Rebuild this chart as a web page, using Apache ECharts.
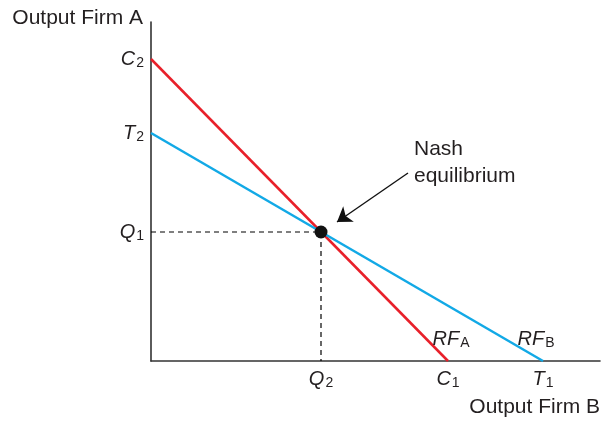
<!DOCTYPE html>
<html>
<head>
<meta charset="utf-8">
<script src="https://cdn.jsdelivr.net/npm/echarts@6/dist/echarts.min.js"></script>
<style>html,body{margin:0;padding:0;background:#fff}#c{width:609px;height:425px}</style>
</head>
<body>
<div id="c"></div>
<script>
// Values in chart units (x: Output Firm B, y: Output Firm A)
const xMax = 449, yMax = 339;
const rfA = [[0, 302], [297, 0]];   // C2 -> C1
const rfB = [[0, 228], [392, 0]];   // T2 -> T1
const nash = [170, 129];            // (Q2, Q1)
const yTickValues = [302, 228, 129];
const yTickLabels = [['C', '2'], ['T', '2'], ['Q', '1']];
const xTickValues = [170, 297, 392];
const xTickLabels = [['Q', '2'], ['C', '1'], ['T', '1']];
const arrowFrom = [257, 188];
const arrowTo = [186, 139];
const rfLabels = [{ name: ['RF', 'A'], at: [300, 22] }, { name: ['RF', 'B'], at: [385, 22] }];

const FONT = 'Liberation Sans, Arial, sans-serif';
const TXT = '#231f20';
const rich = {
  i: { fontStyle: 'italic', fontSize: 20, fontFamily: FONT, color: TXT, lineHeight: 24 },
  s: { fontSize: 14, fontFamily: FONT, color: TXT, lineHeight: 24, padding: [9, 0, 0, 1] }
};
function fmt(vals, labels) {
  return function (v) {
    const k = vals.indexOf(Math.round(v));
    if (k < 0) return '';
    return '{i|' + labels[k][0] + '}{s|' + labels[k][1] + '}';
  };
}

const chart = echarts.init(document.getElementById('c'));
chart.setOption({
  animation: false,
  grid: { left: 151, top: 22, right: 9, bottom: 64 },
  xAxis: {
    type: 'value', min: 0, max: xMax,
    splitLine: { show: false },
    axisLine: { lineStyle: { color: '#333', width: 1.6 } },
    axisTick: { show: false },
    axisLabel: { customValues: xTickValues, formatter: fmt(xTickValues, xTickLabels), rich: rich, margin: 6 }
  },
  yAxis: {
    type: 'value', min: 0, max: yMax,
    splitLine: { show: false },
    axisLine: { show: true, lineStyle: { color: '#333', width: 1.6 } },
    axisTick: { show: false },
    axisLabel: { customValues: yTickValues, formatter: fmt(yTickValues, yTickLabels), rich: rich, margin: 7 }
  },
  series: [
    { type: 'line', data: [[0, nash[1]], nash, [nash[0], 0]], symbol: 'none',
      lineStyle: { color: '#000', width: 1.2, type: [5, 4] }, z: 1 },
    { type: 'line', data: rfA, symbol: 'none', lineStyle: { color: '#e8202a', width: 2.5 }, z: 2 },
    { type: 'line', data: rfB, symbol: 'none', lineStyle: { color: '#12a9e6', width: 2.5 }, z: 3 },
    { type: 'scatter', data: [nash], symbolSize: 13, itemStyle: { color: '#111', opacity: 1 }, z: 5 },
    { type: 'lines', coordinateSystem: 'cartesian2d', z: 6,
      symbol: ['none', 'arrow'], symbolSize: 14,
      lineStyle: { color: '#111', width: 1.4, opacity: 1 },
      data: [{ coords: [arrowFrom, arrowTo] }] },
    { type: 'scatter', symbolSize: 0, z: 7, itemStyle: { opacity: 1 },
      data: rfLabels.map(r => ({ value: r.at, name: r.name })),
      label: { show: true, position: 'inside', rich: rich, opacity: 1, color: TXT,
        formatter: p => '{i|' + p.data.name[0] + '}{s|' + p.data.name[1] + '}' } }
  ],
  graphic: [
    { type: 'text', right: 609 - 143, top: 8,
      style: { text: 'Output Firm A', font: '21px ' + FONT, fill: TXT } },
    { type: 'text', right: 9, top: 397,
      style: { text: 'Output Firm B', font: '21px ' + FONT, fill: TXT } },
    { type: 'text', left: 414, top: 136,
      style: { text: 'Nash\nequilibrium', font: '21px ' + FONT, fill: TXT, lineHeight: 27 } }
  ]
});
</script>
</body>
</html>
